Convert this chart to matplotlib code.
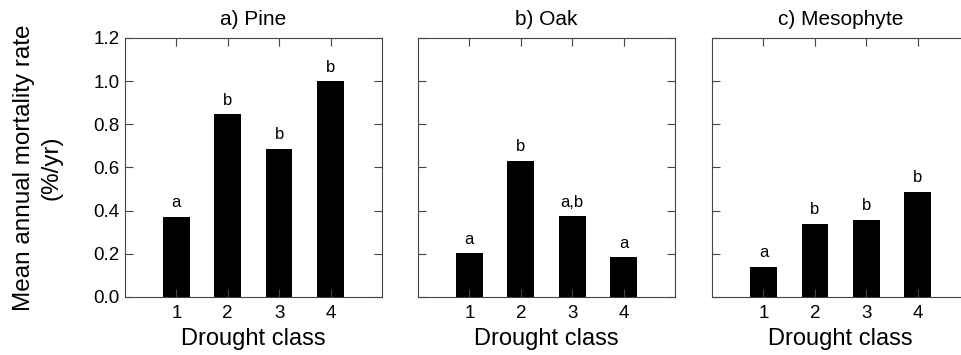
import matplotlib.pyplot as plt

plt.rcParams['font.family'] = ['Liberation Sans', 'DejaVu Sans']

classes = [1, 2, 3, 4]
titles = ["a) Pine", "b) Oak", "c) Mesophyte"]
pine = [0.372, 0.847, 0.686, 1.0]
oak = [0.202, 0.632, 0.375, 0.185]
meso = [0.140, 0.340, 0.357, 0.488]
pine_letters = ["a", "b", "b", "b"]
oak_letters = ["a", "b", "a,b", "a"]
meso_letters = ["a", "b", "b", "b"]

values = [pine, oak, meso]
letters = [pine_letters, oak_letters, meso_letters]
lefts = [0.130, 0.435, 0.741]

fig = plt.figure(figsize=(9.61, 3.55), dpi=100)
spine_col = '#444444'

for i in range(3):
    ax = fig.add_axes([lefts[i], 0.1634, 0.2674, 0.7296])
    ax.bar(classes, values[i], width=0.52, color='black')
    for x, v, s in zip(classes, values[i], letters[i]):
        ax.text(x, v + 0.03, s, ha='center', va='bottom', fontsize=12)
    ax.set_xlim(0, 5)
    ax.set_ylim(0, 1.2)
    ax.set_xticks(classes)
    ax.set_yticks([0, 0.2, 0.4, 0.6, 0.8, 1.0, 1.2])
    ax.tick_params(direction='in', length=6, width=0.8, color=spine_col,
                   top=True, right=True, labelsize=13.5, pad=6)
    ax.tick_params(axis='y', pad=4)
    if i == 0:
        ax.set_yticklabels(["0.0", "0.2", "0.4", "0.6", "0.8", "1.0", "1.2"])
        ax.set_ylabel("Mean annual mortality rate\n(%/yr)", fontsize=17.5,
                      labelpad=22, linespacing=1.35)
    else:
        ax.set_yticklabels([])
    for sp in ax.spines.values():
        sp.set_color(spine_col)
        sp.set_linewidth(0.8)
    ax.set_title(titles[i], fontsize=15, pad=9)
    ax.set_xlabel("Drought class", fontsize=17, labelpad=4)

fig.savefig("out.png", dpi=100)
